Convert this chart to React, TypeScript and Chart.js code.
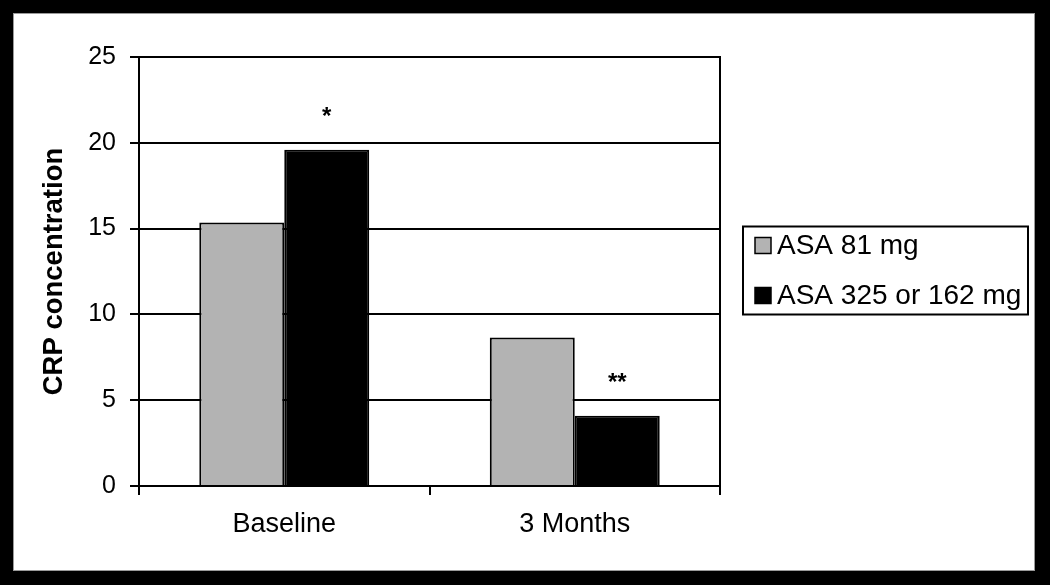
import React, { useEffect, useRef } from "react";
import { Chart, registerables } from "chart.js";

Chart.register(...registerables);

const categories = ["Baseline", "3 Months"];
const seriesNames = ["ASA 81 mg", "ASA 325 or 162 mg"];
const asa81Values = [15.35, 8.65];
const asa325Values = [19.6, 4.1];
const asa325Marks = ["*", "**"];
const yAxisTitle = "CRP concentration";
const yMin = 0;
const yMax = 25;
const yStep = 5;

const FONT = '"Liberation Sans", Arial, sans-serif';

const framePlugin = {
  id: "frameAndLegend",
  beforeDatasetsDraw(chart: any) {
    const { ctx, chartArea: a } = chart;
    ctx.save();
    ctx.strokeStyle = "#000";
    ctx.lineWidth = 2;
    ctx.strokeRect(a.left, a.top, a.right - a.left, a.bottom - a.top);
    ctx.restore();
  },
  afterDatasetsDraw(chart: any) {
    const { ctx, chartArea: a } = chart;
    ctx.save();
    // significance marks above the second series
    const meta = chart.getDatasetMeta(1);
    ctx.fillStyle = "#000";
    ctx.font = `bold 24px ${FONT}`;
    ctx.textAlign = "center";
    ctx.textBaseline = "alphabetic";
    meta.data.forEach((el: any, i: number) => {
      const m = asa325Marks[i];
      if (!m) return;
      ctx.fillText(m, el.x, el.y - 26);
    });

    // legend box
    const boxLeft = a.right + 23;
    const boxRight = chart.width - 7;
    const rowGap = 50;
    const n = chart.data.datasets.length;
    const boxH = 88;
    const midY = (a.top + a.bottom) / 2 - 1;
    const boxTop = midY - boxH / 2;
    ctx.fillStyle = "#fff";
    ctx.fillRect(boxLeft, boxTop, boxRight - boxLeft, boxH);
    ctx.strokeStyle = "#000";
    ctx.lineWidth = 2;
    ctx.strokeRect(boxLeft, boxTop, boxRight - boxLeft, boxH);
    ctx.font = `28px ${FONT}`;
    ctx.textAlign = "left";
    ctx.textBaseline = "middle";
    const firstY = midY - ((n - 1) * rowGap) / 2;
    chart.data.datasets.forEach((ds: any, i: number) => {
      const cy = firstY + i * rowGap;
      const sq = 16;
      ctx.fillStyle = ds.backgroundColor;
      ctx.fillRect(boxLeft + 12, cy - sq / 2, sq, sq);
      ctx.strokeStyle = "#000";
      ctx.lineWidth = 1.5;
      ctx.strokeRect(boxLeft + 12, cy - sq / 2, sq, sq);
      ctx.fillStyle = "#000";
      ctx.fillText(ds.label, boxLeft + 34, cy + 1);
    });
    ctx.restore();
  },
};

export default function App() {
  const canvasRef = useRef<HTMLCanvasElement | null>(null);

  useEffect(() => {
    if (!canvasRef.current) return;
    const chart = new Chart(canvasRef.current, {
      type: "bar",
      data: {
        labels: categories,
        datasets: [
          {
            label: seriesNames[0],
            data: asa81Values,
            backgroundColor: "#b3b3b3",
            borderColor: "#000",
            borderWidth: 2,
          },
          {
            label: seriesNames[1],
            data: asa325Values,
            backgroundColor: "#000",
            borderColor: "#000",
            borderWidth: 2,
          },
        ],
      },
      options: {
        responsive: false,
        animation: false,
        devicePixelRatio: 1,
        layout: { padding: { left: 0, top: 44, right: 315, bottom: 0 } },
        datasets: {
          bar: { barPercentage: 1, categoryPercentage: 0.585 },
        },
        plugins: {
          legend: { display: false },
          tooltip: { enabled: false },
        },
        scales: {
          x: {
            offset: true,
            grid: {
              offset: true,
              drawOnChartArea: false,
              drawTicks: true,
              tickLength: 9,
              color: "#000",
              lineWidth: 2,
            },
            border: { display: true, color: "#000", width: 2 },
            ticks: {
              color: "#000",
              font: { family: FONT, size: 27 },
              padding: 13,
              maxRotation: 0,
            },
            afterFit(scale: any) {
              scale.height = 85;
            },
          },
          y: {
            min: yMin,
            max: yMax,
            ticks: {
              stepSize: yStep,
              color: "#000",
              font: { family: FONT, size: 25 },
              padding: 14,
            },
            grid: {
              color: "#000",
              lineWidth: 2,
              tickLength: 9,
            },
            border: { display: true, color: "#000", width: 2 },
            title: {
              display: true,
              text: yAxisTitle,
              color: "#000",
              font: { family: FONT, size: 27.5, weight: "bold" },
              padding: { top: 25, bottom: 0 },
            },
            afterFit(scale: any) {
              scale.width = 126;
            },
          },
        },
      },
      plugins: [framePlugin],
    } as any);
    return () => chart.destroy();
  }, []);

  return (
    <div
      style={{
        position: "absolute",
        left: 0,
        top: 0,
        width: 1050,
        height: 585,
        background: "#000",
      }}
    >
      <div
        style={{
          position: "absolute",
          left: 13,
          top: 13,
          width: 1022,
          height: 558,
          background: "#fff",
          boxShadow: "inset 0 0 0 1px #9a9a9a",
        }}
      >
        <canvas
          ref={canvasRef}
          width={1022}
          height={558}
          style={{ display: "block", width: 1022, height: 558 }}
        />
      </div>
    </div>
  );
}
